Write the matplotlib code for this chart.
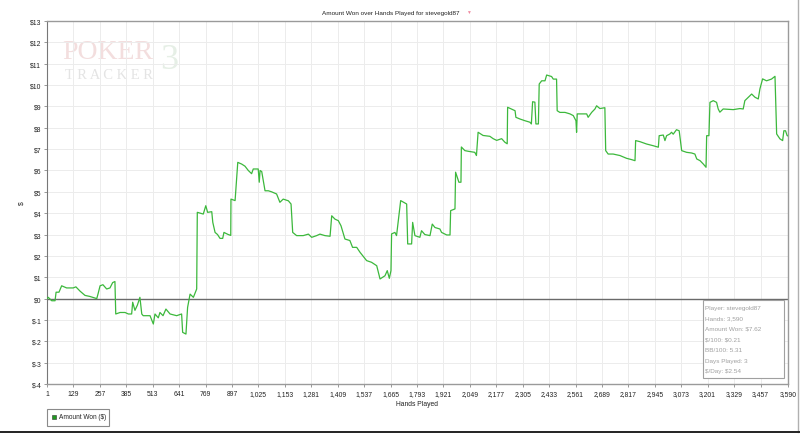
import matplotlib.pyplot as plt
from matplotlib.lines import Line2D
from matplotlib.patches import Rectangle

# Cumulative amount won
hands = [1, 7, 24, 40, 45, 59, 72, 96, 128, 141, 161, 185, 209, 242, 249, 258, 272, 290,
         306, 319, 330, 334, 355, 379, 395, 411, 416, 427, 439, 451, 460, 467, 500, 516,
         524, 540, 548, 563, 577, 597, 629, 653, 658, 674, 682, 694, 710, 726, 729, 758,
         770, 779, 799, 804, 815, 827, 839, 852, 858, 879, 891, 892, 912, 925, 944, 960,
         976, 992, 1000, 1024, 1029, 1033, 1041, 1057, 1073, 1089, 1113, 1129, 1145, 1170,
         1183, 1191, 1210, 1242, 1267, 1283, 1307, 1323, 1347, 1372, 1380, 1396, 1412, 1425,
         1444, 1468, 1481, 1501, 1517, 1549, 1573, 1598, 1614, 1638, 1649, 1659, 1667, 1670,
         1686, 1694, 1714, 1743, 1748, 1767, 1772, 1783, 1807, 1815, 1831, 1856, 1867, 1880,
         1904, 1912, 1937, 1953, 1956, 1977, 1980, 1996, 2006, 2008, 2025, 2041, 2073, 2081,
         2089, 2113, 2146, 2162, 2179, 2203, 2219, 2230, 2232, 2268, 2272, 2292, 2316, 2340,
         2347, 2353, 2364, 2369, 2381, 2385, 2397, 2413, 2421, 2445, 2453, 2469, 2472, 2485,
         2510, 2534, 2550, 2563, 2566, 2569, 2615, 2622, 2639, 2655, 2663, 2679, 2703, 2707,
         2719, 2743, 2776, 2808, 2832, 2849, 2852, 2873, 2905, 2937, 2962, 2966, 2986, 2994,
         3002, 3018, 3026, 3034, 3050, 3063, 3075, 3099, 3123, 3139, 3148, 3164, 3180, 3193,
         3196, 3207, 3212, 3228, 3244, 3252, 3260, 3276, 3325, 3357, 3373, 3381, 3405, 3414,
         3430, 3446, 3454, 3467, 3486, 3510, 3527, 3535, 3551, 3564, 3570, 3578, 3586, 3590]
amount_won = [0.0, 0.06, -0.1, -0.1, 0.3, 0.3, 0.6, 0.5, 0.5, 0.55, 0.35, 0.15, 0.1, 0.0,
              0.25, 0.6, 0.65, 0.45, 0.5, 0.75, 0.8, -0.72, -0.65, -0.65, -0.72, -0.72,
              -0.17, -0.55, -0.3, 0.06, -0.72, -0.8, -0.8, -1.19, -0.72, -0.9, -0.65, -0.8,
              -0.49, -0.72, -0.8, -0.72, -1.58, -1.66, -0.41, 0.21, 0.06, 0.45, 4.04, 3.96,
              4.35, 4.04, 4.07, 3.57, 3.1, 3.0, 2.82, 2.82, 3.1, 3.0, 2.96, 4.66, 4.59, 6.38,
              6.3, 6.2, 6.0, 5.85, 6.07, 6.07, 5.45, 6.0, 5.95, 5.05, 5.05, 5.0, 4.9, 4.51,
              4.66, 4.58, 4.43, 3.1, 2.95, 2.95, 3.02, 2.87, 2.95, 3.02, 2.95, 2.92, 3.88,
              3.72, 3.65, 3.41, 2.79, 2.72, 2.4, 2.4, 2.17, 1.78, 1.7, 1.54, 0.92, 1.07, 1.31,
              0.95, 1.31, 3.03, 3.1, 2.95, 4.59, 4.43, 2.56, 2.56, 3.57, 2.95, 2.87, 3.18, 3.0,
              2.95, 3.49, 3.33, 3.26, 3.1, 2.98, 2.98, 4.12, 4.2, 5.92, 5.45, 5.45, 7.1, 6.93,
              6.9, 6.85, 6.7, 7.79, 7.64, 7.6, 7.49, 7.41, 7.49, 7.32, 7.25, 8.96, 8.8, 8.49,
              8.41, 8.33, 8.26, 8.18, 9.22, 9.2, 8.18, 8.18, 10.05, 10.2, 10.2, 10.47, 10.4,
              10.28, 10.28, 8.8, 8.72, 8.72, 8.65, 8.57, 8.33, 7.79, 8.65, 8.65, 8.49, 8.72,
              8.88, 9.03, 8.9, 8.94, 6.93, 6.77, 6.77, 6.7, 6.57, 6.51, 6.46, 7.4, 7.35, 7.24,
              7.16, 7.09, 7.63, 7.66, 7.4, 7.63, 7.71, 7.79, 7.7, 7.91, 7.86, 6.93, 6.85, 6.82,
              6.77, 6.54, 6.46, 6.3, 6.15, 7.63, 7.63, 9.19, 9.27, 9.19, 8.88, 8.73, 8.88, 8.85,
              8.9, 8.88, 9.27, 9.5, 9.58, 9.43, 9.35, 9.82, 10.29, 10.2, 10.28, 10.41, 7.71,
              7.48, 7.4, 7.86, 7.86, 7.63, 7.62]

x_ticks = list(range(1, 3458, 128)) + [3590]
y_ticks = list(range(-4, 14))

stats = ["Player: stevegold87", "Hands: 3,590", "Amount Won: $7.62", "$/100: $0.21",
         "BB/100: 5.31", "Days Played: 3", "$/Day: $2.54"]

plt.rcParams['font.family'] = ['Liberation Sans', 'DejaVu Sans']

fig = plt.figure(figsize=(8, 4.35), dpi=100)
ax = fig.add_axes([0.05875, 0.1149, 0.92625, 0.8345])

# faint PokerTracker logo in the top-left corner
ax.text(0.021, 0.915, "POKER", transform=ax.transAxes, fontsize=20, color='#f3dede',
        family='Liberation Serif', va='center', ha='left', zorder=0)
ax.text(0.024, 0.852, "T R A C K E R", transform=ax.transAxes, fontsize=10.5, color='#e4e4e4',
        family='Liberation Serif', va='center', ha='left', zorder=0)
ax.text(0.152, 0.895, "3", transform=ax.transAxes, fontsize=26, color='#e6efe6',
        family='Liberation Serif', va='center', ha='left', zorder=0)

ax.plot(hands, amount_won, color='#3cb83c', linewidth=0.9, zorder=3)
ax.axhline(0, color='#6a6a6a', linewidth=1.0, zorder=2)

ax.set_xlim(1, 3590)
ax.set_ylim(-4, 13)
ax.set_xticks(x_ticks)
ax.set_xticklabels([f"{t:,}" for t in x_ticks])
ax.set_yticks(y_ticks)
ax.set_yticklabels([f"${t}" for t in y_ticks])
ax.tick_params(labelsize=4.9, length=2.5, width=0.6, color='#888888', pad=1.5,
               labelcolor='#222222')
ax.grid(True, color='#ececec', linewidth=0.7, zorder=0)
ax.set_axisbelow(True)
for side in ['top', 'right', 'bottom']:
    ax.spines[side].set_color('#9a9a9a')
    ax.spines[side].set_linewidth(1.0)
ax.spines['left'].set_color('#777777')
ax.spines['left'].set_linewidth(0.8)

ax.set_xlabel("Hands Played", fontsize=4.9, labelpad=2.5, color='#222222')
ax.set_ylabel("$", fontsize=4.9, labelpad=3, color='#222222', rotation=90)

fig.text(0.489, 0.969, "Amount Won over Hands Played for stevegold87", fontsize=4.6,
         ha='center', va='center', color='#222222')
fig.text(0.586, 0.971, "\u25bc", fontsize=3.5, ha='center', va='center', color='#f08aa0')

# stats box
ax.add_patch(Rectangle((0.885, 0.017), 0.109, 0.215, transform=ax.transAxes,
                       facecolor='white', edgecolor='#a0a0a0', linewidth=0.8, zorder=4))
for i, line in enumerate(stats):
    ax.text(0.888, 0.212 - i * 0.0292, line.replace("$", r"\$"), transform=ax.transAxes,
            fontsize=4.6, color='#a0a0a0', va='center', ha='left', zorder=5)

# legend box
fig.add_artist(Rectangle((0.05875, 0.0195), 0.0775, 0.038, transform=fig.transFigure,
                         facecolor='white', edgecolor='#8a8a8a', linewidth=0.8))
fig.add_artist(Rectangle((0.0655, 0.0345), 0.0045, 0.009, transform=fig.transFigure,
                         facecolor='#1f9a1f', edgecolor='#333333', linewidth=0.4))
fig.text(0.0735, 0.0395, r"Amount Won (\$)", fontsize=4.7, va='center', ha='left',
         color='#222222')

# outer frame lines at the right and bottom edges of the image
fig.add_artist(Line2D([0.9975, 0.9975], [0.005, 1.0], transform=fig.transFigure,
                      color='#b0b0b0', linewidth=1.0))
fig.add_artist(Line2D([0, 1], [0.004, 0.004], transform=fig.transFigure,
                      color='#222222', linewidth=1.4))

fig.savefig("out.png", dpi=100)
